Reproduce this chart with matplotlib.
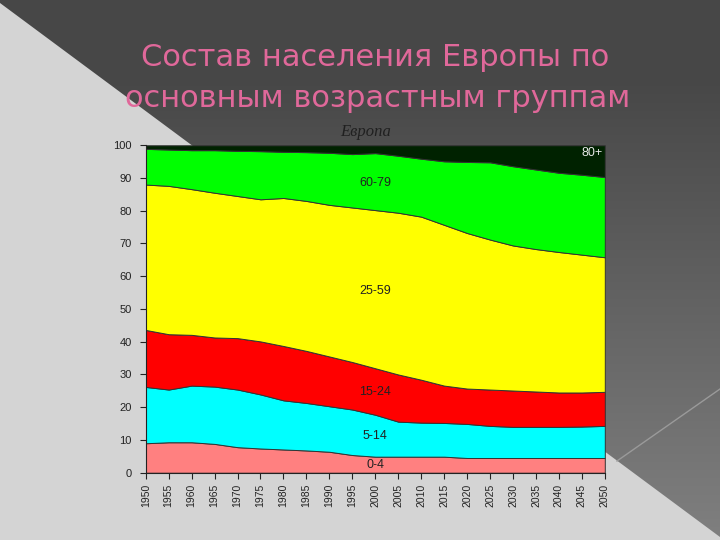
import numpy as np
import matplotlib
matplotlib.use('Agg')
import matplotlib.pyplot as plt
from matplotlib.patches import Polygon

# Доли возрастных групп, % (чтение с графика)
years = list(range(1950, 2051, 5))
age_0_4 = [9.0, 9.3, 9.3, 8.8, 7.8, 7.4, 7.1, 6.8, 6.4, 5.4, 4.9,
           4.9, 4.9, 4.9, 4.5, 4.5, 4.5, 4.5, 4.5, 4.5, 4.5]
age_5_14 = [17.2, 16.1, 17.3, 17.5, 17.6, 16.5, 15.0, 14.5, 13.9, 13.9, 12.8,
            10.7, 10.4, 10.3, 10.4, 9.8, 9.5, 9.5, 9.5, 9.6, 9.8]
age_15_24 = [17.4, 16.9, 15.5, 15.0, 15.7, 16.2, 16.6, 15.9, 15.2, 14.5, 14.2,
             14.4, 13.1, 11.4, 10.8, 11.1, 11.1, 10.8, 10.5, 10.4, 10.4]
age_25_59 = [44.4, 45.3, 44.5, 44.2, 43.4, 43.4, 45.2, 45.8, 46.3, 47.2, 48.3,
             49.4, 49.8, 49.1, 47.5, 45.8, 44.3, 43.5, 42.9, 42.1, 41.1]
age_60_79 = [10.9, 11.1, 11.9, 13.0, 13.8, 14.7, 14.1, 14.9, 15.9, 16.3, 17.4,
             17.4, 17.7, 19.4, 21.7, 23.6, 24.2, 24.3, 24.2, 24.4, 24.5]
age_80 = [1.1, 1.3, 1.5, 1.5, 1.7, 1.8, 2.0, 2.1, 2.3, 2.7, 2.4,
          3.2, 4.1, 4.9, 5.1, 5.2, 6.4, 7.4, 8.4, 9.0, 9.7]

groups = ['0-4', '5-14', '15-24', '25-59', '60-79', '80+']
colors = ['#ff8080', '#00ffff', '#ff0000', '#ffff00', '#00ff00', '#002200']

fig = plt.figure(figsize=(7.2, 5.4), dpi=100)

# фон слайда
bg = fig.add_axes([0, 0, 1, 1], zorder=-10)
bg.set_xlim(0, 720)
bg.set_ylim(540, 0)
bg.axis('off')
grad = np.linspace(0, 1, 540)[:, None] * np.ones((1, 720))
vals = 0.28 + 0.22 * np.clip((grad - 0.15) / 0.85, 0, 1)
bg.imshow(np.dstack([vals, vals, vals]), extent=(0, 720, 540, 0), aspect='auto')
bg.add_patch(Polygon([(0, 3), (720, 537), (720, 540), (0, 540)],
                     closed=True, facecolor='#d4d4d4', edgecolor='none'))
bg.plot([617, 720], [461, 389], color='#9a9a9a', linewidth=1)

# заголовок
fig.text(0.521, 0.893, 'Состав населения Европы по', ha='center', va='center',
         fontsize=22, color='#e0689a', family='DejaVu Sans')
fig.text(0.524, 0.818, 'основным возрастным группам', ha='center', va='center',
         fontsize=22, color='#e0689a', family='DejaVu Sans')

ax = fig.add_axes([0.2024, 0.1246, 0.6376, 0.6064])
ax.set_facecolor('none')
ax.stackplot(years, age_0_4, age_5_14, age_15_24, age_25_59, age_60_79, age_80,
             colors=colors, edgecolor='#333333', linewidth=0.7)
ax.set_xlim(1950, 2050)
ax.set_ylim(0, 100)
ax.set_xticks(years)
ax.set_xticklabels([str(y) for y in years], rotation=90, fontsize=7.5,
                   family='Liberation Sans', color='#222222')
ax.set_yticks(range(0, 101, 10))
ax.set_yticklabels([str(v) for v in range(0, 101, 10)], fontsize=8,
                   family='Liberation Sans', color='#222222')
ax.tick_params(direction='out', length=4, width=0.8, color='#222222')
ax.tick_params(axis='y', pad=6)
ax.tick_params(axis='x', pad=4)
for side in ['top', 'right']:
    ax.spines[side].set_visible(False)
for side in ['left', 'bottom']:
    ax.spines[side].set_color('#222222')

ax.text(0.478, 1.04, 'Европа', transform=ax.transAxes, ha='center', va='center',
        fontsize=12, style='italic', family='Liberation Serif', color='#202020')

label_pos = {'0-4': (2000, 2.4), '5-14': (2000, 11.2), '15-24': (2000, 24.6),
             '25-59': (2000, 55.6), '60-79': (2000, 88.6), '80+': (2047.2, 97.5)}
for g in groups:
    x, y = label_pos[g]
    ax.text(x, y, g, ha='center', va='center', fontsize=9,
            family='Liberation Sans',
            color='#e8e8e8' if g == '80+' else '#222222')

fig.savefig('out.png', dpi=100)
